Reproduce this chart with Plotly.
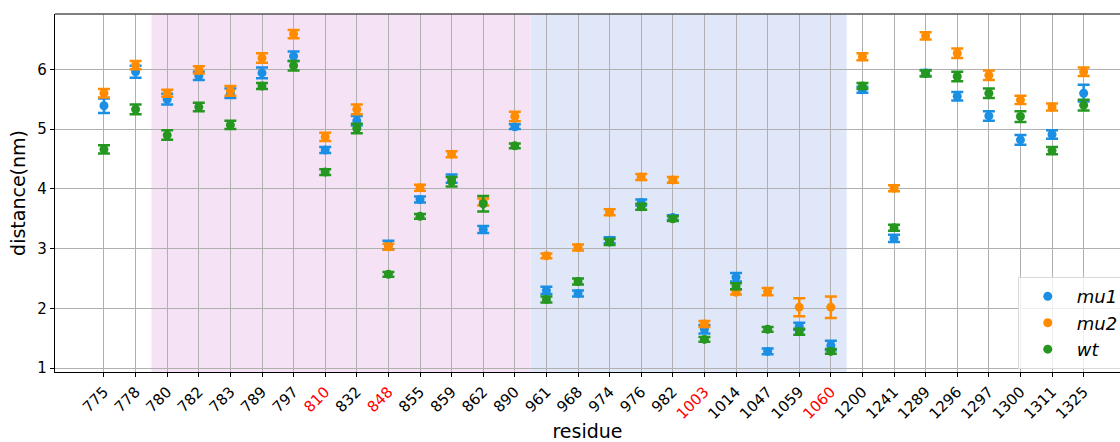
import plotly.graph_objects as go

# Residue labels along the x axis
residues = ["775", "778", "780", "782", "783", "789", "797", "810", "832", "848",
            "855", "859", "862", "890", "961", "968", "974", "976", "982", "1003",
            "1014", "1047", "1059", "1060", "1200", "1241", "1289", "1296", "1297",
            "1300", "1311", "1325"]
highlight = ["810", "848", "1003", "1060"]

# Mean distances (nm) and their errors
mu1 = [5.39, 5.96, 5.50, 5.89, 5.60, 5.94, 6.22, 4.65, 5.14, 3.06,
       3.82, 4.17, 3.32, 5.04, 2.30, 2.25, 3.14, 3.77, 3.52, 1.65,
       2.52, 1.28, 1.70, 1.38, 5.66, 3.17, 5.94, 5.55, 5.22,
       4.82, 4.91, 5.60]
mu1_err = [0.12, 0.10, 0.09, 0.07, 0.08, 0.09, 0.08, 0.05, 0.08, 0.07,
           0.05, 0.07, 0.06, 0.04, 0.06, 0.05, 0.05, 0.05, 0.04, 0.07,
           0.07, 0.05, 0.06, 0.08, 0.05, 0.06, 0.05, 0.07, 0.08,
           0.08, 0.07, 0.14]

mu2 = [5.60, 6.07, 5.60, 5.99, 5.64, 6.19, 6.59, 4.87, 5.33, 3.03,
       4.02, 4.58, 3.78, 5.21, 2.88, 3.02, 3.61, 4.20, 4.15, 1.74,
       2.27, 2.28, 2.02, 2.02, 6.21, 4.01, 6.56, 6.27, 5.90,
       5.49, 5.37, 5.96]
mu2_err = [0.07, 0.07, 0.06, 0.06, 0.08, 0.08, 0.07, 0.07, 0.08, 0.05,
           0.05, 0.05, 0.06, 0.08, 0.04, 0.05, 0.05, 0.05, 0.05, 0.05,
           0.04, 0.06, 0.15, 0.18, 0.06, 0.05, 0.06, 0.08, 0.08,
           0.07, 0.06, 0.07]

wt = [4.66, 5.33, 4.90, 5.37, 5.07, 5.72, 6.06, 4.28, 5.01, 2.57,
      3.54, 4.12, 3.75, 4.72, 2.15, 2.45, 3.11, 3.70, 3.50, 1.48,
      2.37, 1.65, 1.61, 1.28, 5.72, 3.35, 5.93, 5.88, 5.60,
      5.21, 4.64, 5.40]
wt_err = [0.07, 0.08, 0.08, 0.07, 0.07, 0.05, 0.08, 0.05, 0.08, 0.04,
          0.04, 0.08, 0.13, 0.04, 0.05, 0.05, 0.05, 0.05, 0.04, 0.04,
          0.05, 0.04, 0.05, 0.04, 0.05, 0.05, 0.05, 0.08, 0.08,
          0.09, 0.06, 0.09]

# Highlighted domains, given as (first residue, last residue, fill colour)
regions = [("780", "890", "#f5e3f5"), ("961", "1060", "#dfe7f9")]

x = list(range(len(residues)))
ticktext = [f"<span style='color:red'>{r}</span>" if r in highlight else r for r in residues]

fig = go.Figure()

series = [("mu1", mu1, mu1_err, "#1a8fe3"),
          ("mu2", mu2, mu2_err, "#ff8c00"),
          ("wt", wt, wt_err, "#259620")]
for name, vals, errs, color in series:
    fig.add_trace(go.Scatter(
        x=x, y=vals, mode="markers", name=name,
        marker=dict(color=color, size=9),
        error_y=dict(type="data", array=errs, visible=True, color=color,
                     thickness=2.5, width=6),
    ))

for start, end, color in regions:
    fig.add_shape(type="rect", xref="x", yref="paper",
                  x0=residues.index(start) - 0.5, x1=residues.index(end) + 0.5,
                  y0=0, y1=1, fillcolor=color, line_width=0, layer="below")

# top frame line
fig.add_shape(type="line", xref="paper", yref="paper", x0=0, x1=1, y0=1, y1=1,
              line=dict(color="#555555", width=1.5))

fig.update_layout(
    width=1120, height=442,
    margin=dict(l=55, r=0, t=14, b=70, autoexpand=False),
    paper_bgcolor="white", plot_bgcolor="white",
    font=dict(family="DejaVu Sans", size=15, color="black"),
    showlegend=True,
    legend=dict(x=0.904, y=0.265, xanchor="left", yanchor="top",
                bgcolor="rgba(255,255,255,0.8)", bordercolor="#d9d9d9", borderwidth=1,
                font=dict(size=18, style="italic"), itemwidth=48,
                tracegroupgap=0),
)

fig.update_xaxes(
    range=[-1.55, 32.15], tickmode="array", tickvals=x, ticktext=ticktext,
    tickangle=-45, showgrid=True, gridcolor="#b0b0b0", gridwidth=1.3,
    showline=True, linecolor="black", linewidth=1.3,
    ticks="outside", ticklen=4, tickcolor="black",
    title=dict(text="residue", font=dict(size=19), standoff=4),
    zeroline=False,
)
fig.update_yaxes(
    range=[0.935, 6.926], tickvals=[1, 2, 3, 4, 5, 6],
    showgrid=True, gridcolor="#b0b0b0", gridwidth=1.3,
    showline=True, linecolor="black", linewidth=1.3,
    ticks="outside", ticklen=4, tickcolor="black",
    title=dict(text="distance(nm)", font=dict(size=19), standoff=6),
    zeroline=False,
)

fig.write_html("out.html")
